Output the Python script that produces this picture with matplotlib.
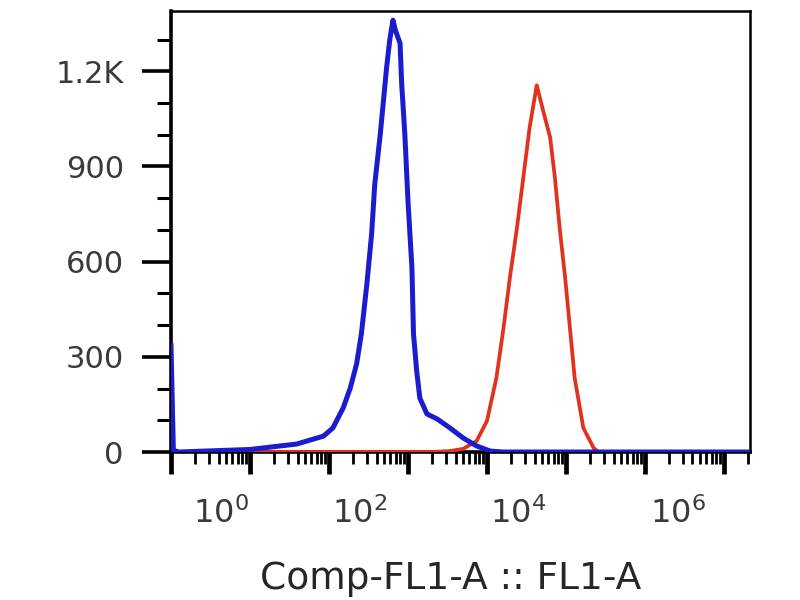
"""Flow cytometry histogram overlay (Comp-FL1-A), FlowJo style."""
import matplotlib
matplotlib.use("Agg")
import matplotlib.pyplot as plt
import numpy as np

# x values are log10 of fluorescence (decade units), y are event counts
BLUE_X = [-1.0, -0.97, -0.9, 0.0, 0.59, 0.93, 1.05, 1.18, 1.27, 1.35, 1.41,
          1.48, 1.54, 1.58, 1.65, 1.73, 1.77, 1.81, 1.84, 1.90, 1.92, 1.96,
          2.00, 2.05, 2.07, 2.11, 2.15, 2.24, 2.37, 2.53, 2.70, 2.87, 3.04,
          3.2, 6.33]
BLUE_Y = [335, 5, 0, 8, 25, 50, 76, 139, 202, 278, 372,
          530, 688, 845, 1003, 1213, 1300, 1361, 1330, 1288, 1162, 1003,
          792, 581, 372, 256, 170, 120, 104, 76, 44, 19, 3,
          0, 0]

RED_X = [-1.0, 2.3, 2.53, 2.70, 2.87, 3.00, 3.12, 3.21, 3.29, 3.38, 3.46,
         3.54, 3.63, 3.71, 3.80, 3.86, 3.92, 3.99, 4.05, 4.11, 4.22, 4.35,
         4.41, 6.33]
RED_Y = [0, 0, 3, 10, 35, 98, 234, 392, 549, 707, 865,
         1023, 1156, 1077, 991, 865, 707, 549, 392, 234, 76, 13,
         0, 0]

Y_TICKS = [0, 300, 600, 900, 1200]
Y_LABELS = ["0", "300", "600", "900", "1.2K"]
DECADES = list(range(-1, 7))
X_LABELS = ["$10^{0}$", "$10^{2}$", "$10^{4}$", "$10^{6}$"]
X_LABEL_POS = [-0.37, 1.39, 3.39, 5.42]

fig = plt.figure(figsize=(8, 6), dpi=100)
ax = fig.add_axes([171 / 800, 148 / 600, 579 / 800, 441 / 600])

ax.plot(RED_X, RED_Y, color="#e0321c", lw=2.7, zorder=3)
ax.plot(BLUE_X, BLUE_Y, color="#1c1ccf", lw=3.6, zorder=4)

ax.set_xlim(-1, 6.33)
ax.set_ylim(0, 1390)

# y axis ticks
ax.set_yticks(Y_TICKS)
ax.set_yticklabels(Y_LABELS, fontsize=22, color="#3a3a3a")
ax.set_yticks(np.arange(100, 1400, 100), minor=True)
ax.tick_params(axis="y", which="major", length=21, width=2.6, pad=13)
ax.tick_params(axis="y", which="minor", length=10, width=2.2)

# x axis ticks: decades and log minors
minors = [d + np.log10(k) for d in DECADES for k in range(2, 10)
          if d + np.log10(k) < 6.33]
ax.set_xticks(DECADES)
ax.set_xticklabels([])
ax.set_xticks(minors, minor=True)
ax.tick_params(axis="x", which="major", length=16, width=3.4)
ax.tick_params(axis="x", which="minor", length=8.5, width=2.0)

for pos, lab in zip(X_LABEL_POS, X_LABELS):
    ax.text(pos, -0.161, lab, transform=ax.get_xaxis_transform(),
            ha="center", va="baseline", fontsize=23, color="#3a3a3a")

for side in ["left", "bottom"]:
    ax.spines[side].set_linewidth(2.6)
for side in ["top", "right"]:
    ax.spines[side].set_linewidth(1.8)

fig.text(451 / 800, 1 - 589 / 600, "Comp-FL1-A :: FL1-A", ha="center",
         va="baseline", fontsize=27, color="#262626")

fig.savefig("out.png", dpi=100)
